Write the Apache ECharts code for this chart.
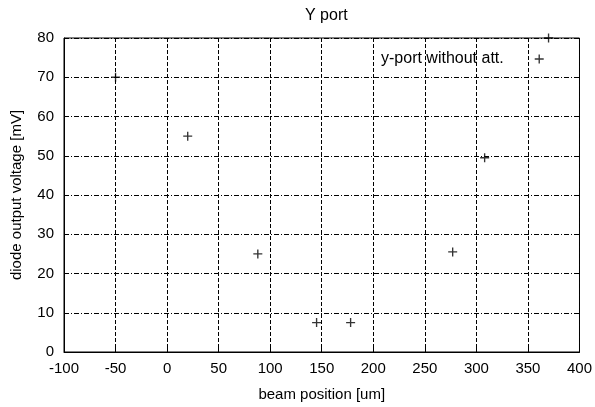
<!DOCTYPE html>
<html>
<head>
<meta charset="utf-8">
<script src="https://cdn.jsdelivr.net/npm/echarts@6/dist/echarts.min.js"></script>
<style>html,body{margin:0;padding:0;background:#fff}#c{width:595px;height:407px}</style>
</head>
<body>
<div id="c"></div>
<script>
const titleText = 'Y port';
const xName = 'beam position [um]';
const yName = 'diode output voltage [mV]';
const seriesName = 'y-port without att.';
const beamPos = [-50, 20, 88, 145, 178, 277, 308, 370];
const voltage = [70, 55, 25, 7.5, 7.5, 25.5, 49.5, 80];

const plus = 'path://M-0.15,-1H0.15V1H-0.15Z M-1,-0.15H1V0.15H-1Z';
const font = 'Liberation Sans, Arial, sans-serif';
const chart = echarts.init(document.getElementById('c'));
chart.setOption({
  animation: false,
  backgroundColor: '#fff',
  title: { text: titleText, left: 300, top: 3, textStyle: { fontFamily: font, fontSize: 16, fontWeight: 'normal', color: '#000' } },
  legend: {
    data: [{ name: seriesName, icon: plus }],
    left: 376, top: 46, align: 'right', itemWidth: 9, itemHeight: 9,
    textStyle: { fontFamily: font, fontSize: 16, color: '#000', padding: [0, 26, 0, 0] }
  },
  grid: { left: 64, top: 38, right: 14, bottom: 53, show: true, borderColor: '#000', borderWidth: 1, backgroundColor: 'transparent' },
  xAxis: {
    type: 'value', min: -100, max: 400, interval: 50,
    name: xName, nameLocation: 'middle', nameGap: 35,
    nameTextStyle: { fontFamily: font, fontSize: 15, color: '#000' },
    axisLine: { show: true, onZero: false, lineStyle: { color: '#000', width: 1 } },
    axisTick: { show: true, inside: true, length: 5, lineStyle: { color: '#000' } },
    axisLabel: { fontFamily: font, fontSize: 15, color: '#000', margin: 9 },
    splitLine: { show: true, lineStyle: { color: '#000', width: 1, type: [4, 2] } }
  },
  yAxis: {
    type: 'value', min: 0, max: 80, interval: 10,
    name: yName, nameLocation: 'middle', nameGap: 40,
    nameTextStyle: { fontFamily: font, fontSize: 15, color: '#000' },
    axisLine: { show: true, onZero: false, lineStyle: { color: '#000', width: 1 } },
    axisTick: { show: true, inside: true, length: 5, lineStyle: { color: '#000' } },
    axisLabel: { fontFamily: font, fontSize: 15, color: '#000', margin: 10 },
    splitLine: { show: true, lineStyle: { color: '#000', width: 1, type: [5, 2, 1, 2] } }
  },
  series: [{
    name: seriesName, type: 'scatter', symbol: plus, symbolSize: 9,
    itemStyle: { color: '#000' },
    data: beamPos.map((x, i) => [x, voltage[i]])
  }]
});
</script>
</body>
</html>
